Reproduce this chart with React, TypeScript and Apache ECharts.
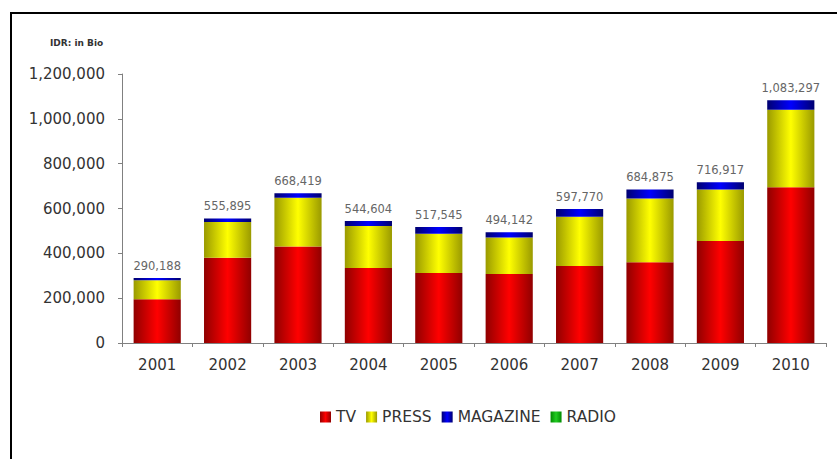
import React, { useEffect, useRef } from "react";
import * as echarts from "echarts";

const years = ["2001", "2002", "2003", "2004", "2005", "2006", "2007", "2008", "2009", "2010"];
const tv = [195000, 380000, 430000, 335000, 312000, 308000, 343000, 360000, 455000, 695000];
const press = [85000, 160000, 218000, 187000, 175000, 163000, 220000, 285000, 230000, 345000];
const magazine = [10188, 15895, 20419, 22604, 30545, 23142, 34770, 39875, 31917, 43297];
const radio = [0, 0, 0, 0, 0, 0, 0, 0, 0, 0];
const totals = [290188, 555895, 668419, 544604, 517545, 494142, 597770, 684875, 716917, 1083297];

const FONT = "DejaVu Sans";

function grad(edge: string, mid: string) {
  return new echarts.graphic.LinearGradient(0, 0, 1, 0, [
    { offset: 0, color: edge },
    { offset: 0.5, color: mid },
    { offset: 1, color: edge },
  ]);
}

export default function App() {
  const ref = useRef<HTMLDivElement>(null);
  useEffect(() => {
    document.body.style.margin = "0";
    const chart = echarts.init(ref.current!, null, { renderer: "svg" });
    const fmt = (v: number) => v.toLocaleString("en-US");
    chart.setOption({
      animation: false,
      backgroundColor: "#ffffff",
      textStyle: { fontFamily: FONT },
      grid: { left: 122, right: 11, top: 74, bottom: 116, containLabel: false },
      legend: {
        data: ["TV", "PRESS", "MAGAZINE", "RADIO"],
        top: 404,
        left: 315,
        itemWidth: 11,
        itemHeight: 11,
        itemGap: 10,
        icon: "rect",
        textStyle: { fontFamily: FONT, fontSize: 15.5, color: "#333" },
      },
      graphic: [
        {
          type: "rect",
          shape: { x: 11, y: 13, width: 840, height: 460 },
          style: { fill: "none", stroke: "#000", lineWidth: 2 },
          silent: true,
        },
        {
          type: "text",
          left: 50,
          top: 38,
          style: { text: "IDR: in Bio", font: `bold 9px ${FONT}`, fill: "#333" },
        },
      ],
      xAxis: {
        type: "category",
        data: years,
        axisLine: { lineStyle: { color: "#808080" } },
        axisTick: { show: true, length: 4, lineStyle: { color: "#808080" } },
        axisLabel: { fontFamily: FONT, fontSize: 15, color: "#333", margin: 14 },
      },
      yAxis: {
        type: "value",
        min: 0,
        max: 1200000,
        interval: 200000,
        splitLine: { show: false },
        axisLine: { show: true, lineStyle: { color: "#808080" } },
        axisTick: { show: true, length: 4, lineStyle: { color: "#808080" } },
        axisLabel: { fontFamily: FONT, fontSize: 15, color: "#333", margin: 17, formatter: fmt },
      },
      series: [
        {
          name: "TV",
          type: "bar",
          stack: "all",
          data: tv,
          barCategoryGap: "33%",
          itemStyle: { color: grad("#900000", "#ff0000") },
        },
        {
          name: "PRESS",
          type: "bar",
          stack: "all",
          data: press,
          itemStyle: { color: grad("#9a9a00", "#ffff00") },
        },
        {
          name: "MAGAZINE",
          type: "bar",
          stack: "all",
          data: magazine,
          itemStyle: { color: grad("#000070", "#0000ff") },
          label: {
            show: true,
            position: "top",
            distance: 6,
            fontFamily: FONT,
            fontSize: 11.5,
            color: "#666",
            formatter: (p: any) => fmt(totals[p.dataIndex]),
          },
        },
        {
          name: "RADIO",
          type: "bar",
          stack: "all",
          data: radio,
          itemStyle: { color: grad("#008a00", "#22cc22") },
        },
      ],
    });
    return () => chart.dispose();
  }, []);
  return <div ref={ref} style={{ width: 837, height: 459 }} />;
}
